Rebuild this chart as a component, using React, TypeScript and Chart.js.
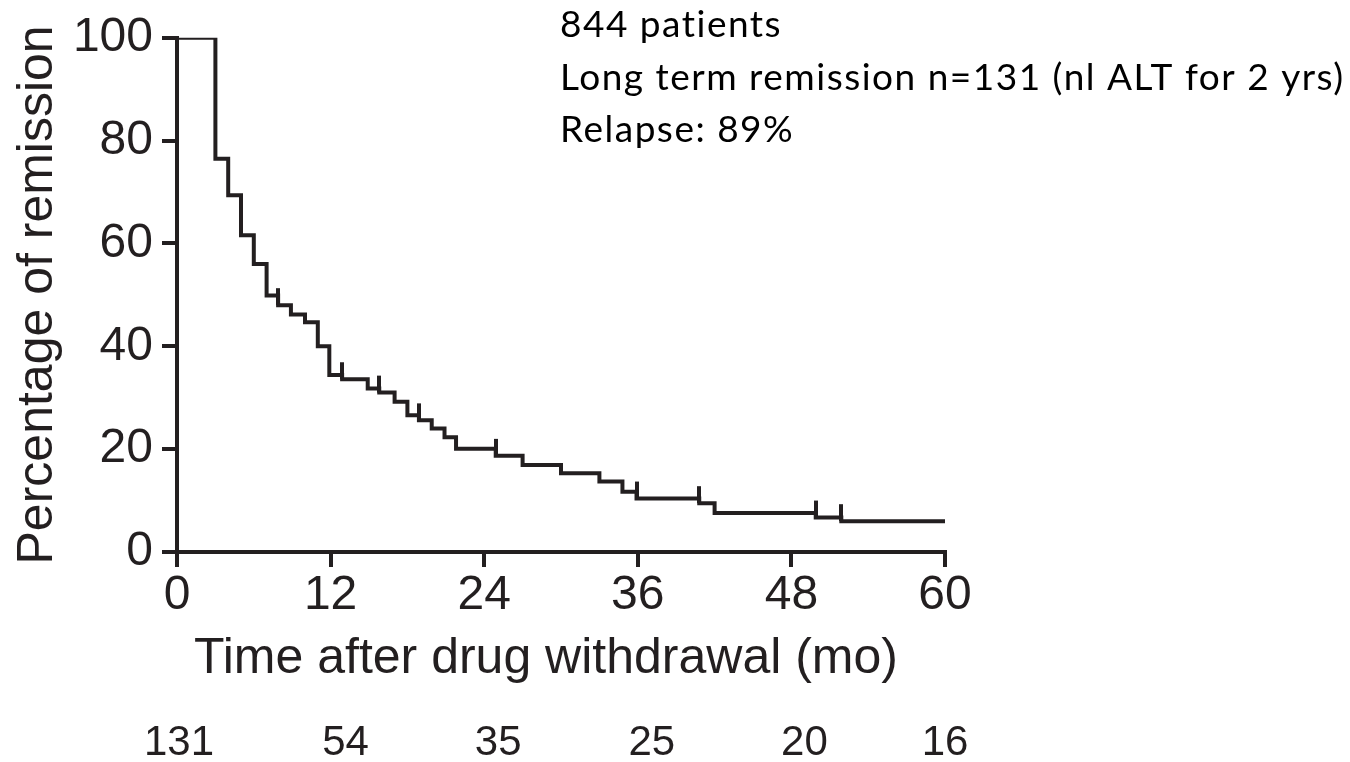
import React, { useEffect, useRef } from "react";
import { Chart, registerables } from "chart.js";

Chart.register(...registerables);

// Kaplan-Meier curve: time (months) and percentage still in remission after each step
const kmTimes = [0, 3.0, 4.0, 5.0, 6.0, 7.0, 7.9, 8.9, 10.0, 11.0, 11.9, 12.9, 14.9, 15.8, 17.0, 18.0, 18.9, 19.9, 20.9, 21.8, 24.9, 27.0, 30.0, 33.0, 34.8, 35.9, 40.8, 42.0, 49.9, 51.9, 60];
const kmRemission = [100, 76.5, 69.4, 61.6, 56.0, 49.9, 48.0, 46.2, 44.7, 40.0, 34.4, 33.6, 31.8, 31.0, 29.2, 26.6, 25.6, 24.0, 22.3, 20.1, 18.7, 16.9, 15.3, 13.7, 11.7, 10.4, 9.5, 7.6, 6.7, 6.0, 6.0];

// Censored observations (tick marks)
const censorTimes = [7.9, 12.9, 15.8, 18.9, 24.9, 35.9, 40.8, 49.9, 51.9];
const censorRemission = [48.0, 33.6, 31.0, 25.6, 18.7, 10.4, 9.5, 6.7, 6.0];

// Number at risk row
const atRiskTimes = [0, 12, 24, 36, 48, 60];
const atRiskCounts = ["131", "54", "35", "25", "20", "16"];

// Annotation text
const annotationLines = [
  "844 patients",
  "Long term remission n=131 (nl ALT for 2 yrs)",
  "Relapse: 89%",
];

const xTitle = "Time after drug withdrawal (mo)";
const yTitle = "Percentage of remission";

const INK = "#231f20";
const SANS = "'Liberation Sans', Arial, Helvetica, sans-serif";
const CALIBRI_LIKE = "Lato, 'Noto Sans', sans-serif";

function makeCensorMark(): HTMLCanvasElement {
  const c = document.createElement("canvas");
  c.width = 4;
  c.height = 36;
  const g = c.getContext("2d");
  if (g) {
    g.fillStyle = INK;
    g.fillRect(0, 1, 4, 17);
  }
  return c;
}

const overlayPlugin = {
  id: "overlayText",
  afterDraw(chart: any) {
    const ctx = chart.ctx as CanvasRenderingContext2D;
    const xs = chart.scales.x;
    ctx.save();
    // annotation block
    ctx.fillStyle = "#000";
    ctx.font = `37px ${CALIBRI_LIKE}`;
    (ctx as any).letterSpacing = "1.5px";
    ctx.textAlign = "left";
    ctx.textBaseline = "alphabetic";
    annotationLines.forEach((t, i) => {
      ctx.fillText(t, 560, 37 + i * 52.5);
    });
    (ctx as any).letterSpacing = "0px";

    // x axis title
    ctx.fillStyle = INK;
    ctx.font = `50px ${SANS}`;
    ctx.textAlign = "center";
    ctx.textBaseline = "alphabetic";
    ctx.fillText(xTitle, (xs.left + xs.right) / 2 - 15, 673);

    // number at risk
    const shifts = [2, 15, 14, 14, 13, 0];
    ctx.font = `42px ${SANS}`;
    atRiskTimes.forEach((t, i) => {
      ctx.fillText(atRiskCounts[i], xs.getPixelForValue(t) + shifts[i], 755);
    });
    ctx.restore();
  },
};

export default function App() {
  const canvasRef = useRef<HTMLCanvasElement | null>(null);

  useEffect(() => {
    const canvas = canvasRef.current;
    if (!canvas) return;
    const censorMark = makeCensorMark();

    const chart = new Chart(canvas, {
      type: "line",
      data: {
        datasets: [
          {
            label: "Remission",
            data: kmTimes.map((t, i) => ({ x: t, y: kmRemission[i] })),
            borderColor: INK,
            borderWidth: 4,
            stepped: "before",
            pointRadius: 0,
            fill: false,
          },
          {
            label: "Censored",
            data: censorTimes.map((t, i) => ({ x: t, y: censorRemission[i] })),
            showLine: false,
            pointStyle: censorMark as any,
            pointRadius: 3,
            borderColor: INK,
            backgroundColor: INK,
          },
        ],
      },
      options: {
        animation: false,
        responsive: false,
        devicePixelRatio: 1,
        layout: { padding: { top: 37, right: 405, bottom: 0, left: 0 } },
        plugins: {
          legend: { display: false },
          tooltip: { enabled: false },
        },
        scales: {
          x: {
            type: "linear",
            min: 0,
            max: 60,
            ticks: {
              stepSize: 12,
              color: INK,
              font: { family: SANS, size: 48 },
              padding: 0,
              maxRotation: 0,
            },
            grid: {
              display: true,
              drawOnChartArea: false,
              drawTicks: true,
              tickLength: 15,
              lineWidth: 4,
              tickWidth: 4,
              color: INK,
              tickColor: INK,
            },
            border: { display: true, width: 4, color: INK },
            title: { display: false },
            afterFit: (axis: any) => {
              axis.height = 210;
            },
          },
          y: {
            type: "linear",
            min: 0,
            max: 100,
            ticks: {
              stepSize: 20,
              color: INK,
              font: { family: SANS, size: 48 },
              padding: 9,
            },
            grid: {
              display: true,
              drawOnChartArea: false,
              drawTicks: true,
              tickLength: 15,
              lineWidth: 4,
              tickWidth: 4,
              color: INK,
              tickColor: INK,
            },
            border: { display: true, width: 4, color: INK },
            title: {
              display: true,
              text: yTitle,
              color: INK,
              font: { family: SANS, size: 50 },
              padding: { top: 8, bottom: 0 },
            },
            afterFit: (axis: any) => {
              axis.width = 177;
            },
          },
        },
      } as any,
      plugins: [overlayPlugin],
    });

    if ((document as any).fonts && (document as any).fonts.load) {
      (document as any).fonts.load(`37px Lato`).then(() => chart.update()).catch(() => {});
    }

    return () => {
      chart.destroy();
    };
  }, []);

  return (
    <div style={{ position: "fixed", left: 0, top: 0, width: 1350, height: 762, background: "#fff" }}>
      <canvas ref={canvasRef} width={1350} height={762} style={{ width: 1350, height: 762, display: "block" }} />
    </div>
  );
}
